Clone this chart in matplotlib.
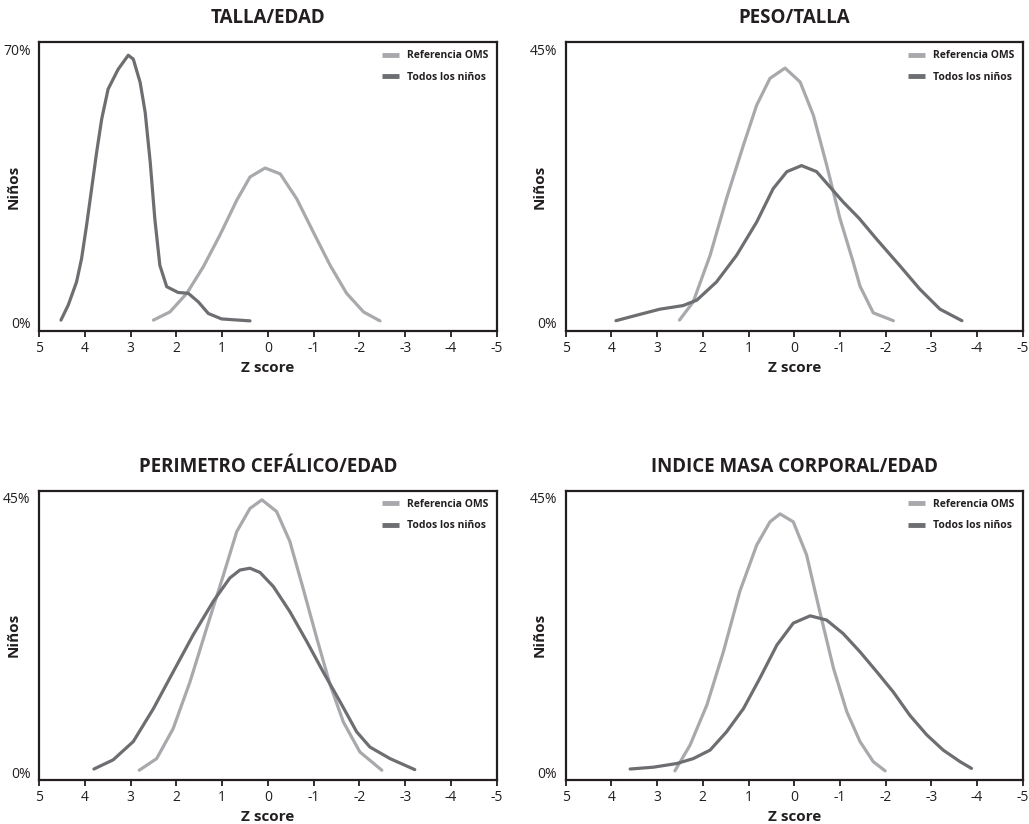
import matplotlib
matplotlib.use("Agg")
import matplotlib.pyplot as plt

plt.rcParams['font.family'] = ['Open Sans', 'DejaVu Sans']

# ---------------- data ----------------
titles = ["TALLA/EDAD", "PESO/TALLA", "PERIMETRO CEFÁLICO/EDAD", "INDICE MASA CORPORAL/EDAD"]
y_max_labels = [70, 45, 45, 45]
x_ticks = [5, 4, 3, 2, 1, 0, -1, -2, -3, -4, -5]
series_names = ["Referencia OMS", "Todos los niños"]

# TALLA/EDAD
ta_ref_x = [2.50, 2.14, 1.77, 1.41, 1.05, 0.68, 0.39, 0.06, -0.27, -0.63, -0.99, -1.36, -1.72, -2.09, -2.45]
ta_ref_y = [0.5, 2.6, 7.4, 14.2, 22.3, 31.3, 37.3, 39.6, 38.1, 31.7, 23.2, 14.6, 7.4, 2.6, 0.3]
ta_all_x = [4.52, 4.36, 4.18, 4.07, 3.96, 3.85, 3.74, 3.63, 3.49, 3.27, 3.05, 2.94, 2.79, 2.68,
            2.57, 2.47, 2.36, 2.21, 1.96, 1.74, 1.52, 1.30, 1.01, 0.39]
ta_all_y = [0.5, 4.4, 10.3, 16.3, 24.9, 34.3, 43.7, 52.2, 59.9, 65.0, 68.6, 67.6, 61.6, 53.9,
            41.1, 26.6, 14.6, 9.1, 7.6, 7.4, 5.2, 2.2, 0.8, 0.3]

# PESO/TALLA
pt_ref_x = [2.51, 2.21, 1.84, 1.48, 1.11, 0.82, 0.53, 0.20, -0.13, -0.42, -0.71, -1.00, -1.29,
            -1.44, -1.73, -2.17]
pt_ref_y = [0.4, 3.4, 11.1, 20.5, 29.3, 35.9, 40.3, 42.0, 39.7, 34.2, 26.0, 17.2, 10.0,
            6.0, 1.6, 0.3]
pt_all_x = [3.90, 3.45, 2.94, 2.43, 2.13, 1.70, 1.26, 0.82, 0.46, 0.16, -0.16, -0.49, -0.78,
            -1.07, -1.42, -1.81, -2.32, -2.75, -3.19, -3.67]
pt_all_y = [0.3, 1.2, 2.2, 2.8, 3.7, 6.7, 11.1, 16.6, 22.1, 24.9, 25.9, 24.9, 22.4,
            19.9, 17.2, 13.7, 9.3, 5.5, 2.2, 0.3]

# PERIMETRO CEFALICO/EDAD
pc_ref_x = [2.81, 2.43, 2.07, 1.70, 1.34, 0.97, 0.68, 0.39, 0.13, -0.19, -0.48, -0.77, -1.07,
            -1.36, -1.65, -2.01, -2.49]
pc_ref_y = [0.3, 2.2, 7.1, 14.8, 23.5, 32.3, 39.4, 43.2, 44.6, 42.7, 37.8, 30.1, 21.9,
            14.3, 8.2, 3.3, 0.3]
pc_all_x = [3.80, 3.38, 2.94, 2.50, 2.07, 1.63, 1.19, 0.83, 0.61, 0.39, 0.17, -0.12, -0.48,
            -0.85, -1.21, -1.58, -1.94, -2.23, -2.67, -3.21]
pc_all_y = [0.5, 2.0, 5.0, 10.4, 16.4, 22.5, 28.0, 31.8, 33.1, 33.4, 32.7, 30.4, 26.3,
            21.4, 16.4, 11.5, 6.6, 4.1, 2.2, 0.4]

# INDICE MASA CORPORAL/EDAD
im_ref_x = [2.61, 2.28, 1.91, 1.55, 1.19, 0.82, 0.53, 0.31, 0.02, -0.27, -0.56, -0.86, -1.15,
            -1.44, -1.73, -1.99]
im_ref_y = [0.2, 4.4, 11.0, 19.7, 29.6, 37.2, 41.0, 42.3, 41.0, 35.6, 26.3, 17.0, 9.9,
            5.0, 1.7, 0.2]
im_all_x = [3.59, 3.08, 2.57, 2.21, 1.84, 1.48, 1.11, 0.75, 0.38, 0.02, -0.35, -0.71, -1.07,
            -1.44, -1.81, -2.17, -2.53, -2.90, -3.26, -3.63, -3.88]
im_all_y = [0.5, 0.8, 1.4, 2.2, 3.6, 6.6, 10.4, 15.4, 20.8, 24.4, 25.6, 24.9, 22.7,
            19.7, 16.4, 13.1, 9.3, 6.1, 3.6, 1.7, 0.6]

panels = [
    (ta_ref_x, ta_ref_y, ta_all_x, ta_all_y),
    (pt_ref_x, pt_ref_y, pt_all_x, pt_all_y),
    (pc_ref_x, pc_ref_y, pc_all_x, pc_all_y),
    (im_ref_x, im_ref_y, im_all_x, im_all_y),
]

# ---------------- layout ----------------
W, H = 1029, 824
fig = plt.figure(figsize=(W / 100, H / 100), dpi=100)

boxes_px = [  # left, top, right, bottom in pixels
    (39, 42, 496.7, 331),
    (565.7, 42, 1022.7, 331),
    (39, 490.7, 496.7, 780),
    (565.7, 490.7, 1022.7, 780),
]
ylims = [(-2.3, 72.0), (-1.4, 46.3), (-1.3, 46.1), (-1.3, 46.1)]

light = "#a7a9ac"
dark = "#6d6e71"
ink = "#231f20"

for i, (l, t, r, b) in enumerate(boxes_px):
    ax = fig.add_axes([l / W, 1 - b / H, (r - l) / W, (b - t) / H])
    rx, ry, ax_, ay = panels[i]
    ax.plot(rx, ry, color=light, lw=2.3, solid_joinstyle="round", solid_capstyle="round",
            label=series_names[0])
    ax.plot(ax_, ay, color=dark, lw=2.3, solid_joinstyle="round", solid_capstyle="round",
            label=series_names[1])

    ymax = y_max_labels[i]
    ax.set_ylim(*ylims[i])
    ax.set_xlim(5, -5)

    ax.set_xticks(x_ticks)
    ax.set_xticklabels([str(v) for v in x_ticks], fontsize=10, color=ink)
    ax.set_yticks([0, ymax])
    ax.set_yticklabels(["0%", f"{ymax}%"], fontsize=10, color=ink)
    ax.tick_params(axis="x", direction="out", length=4, width=1.3, pad=3, color=ink)
    ax.tick_params(axis="y", length=0, pad=6)

    for s in ax.spines.values():
        s.set_linewidth(1.6)
        s.set_color(ink)

    ax.set_title(titles[i], fontsize=13.5, fontweight="bold", pad=13.5, color=ink)
    ax.set_xlabel("Z score", fontsize=11, fontweight="bold", color=ink)
    ax.xaxis.set_label_coords(0.5, -0.105)
    ax.set_ylabel("Niños", fontsize=11, fontweight="bold", color=ink)
    ax.yaxis.set_label_coords(-0.041, 0.5)

    leg = ax.legend(loc="upper right", frameon=False, handlelength=1.6,
                    handletextpad=0.8, labelspacing=1.0, borderaxespad=0.4,
                    prop={"weight": "bold", "size": 7.5})
    for txt in leg.get_texts():
        txt.set_color(ink)
    for h in leg.get_lines():
        h.set_linewidth(3.5)
        h.set_solid_capstyle("butt")

fig.savefig("out.png", dpi=100, facecolor="white")
